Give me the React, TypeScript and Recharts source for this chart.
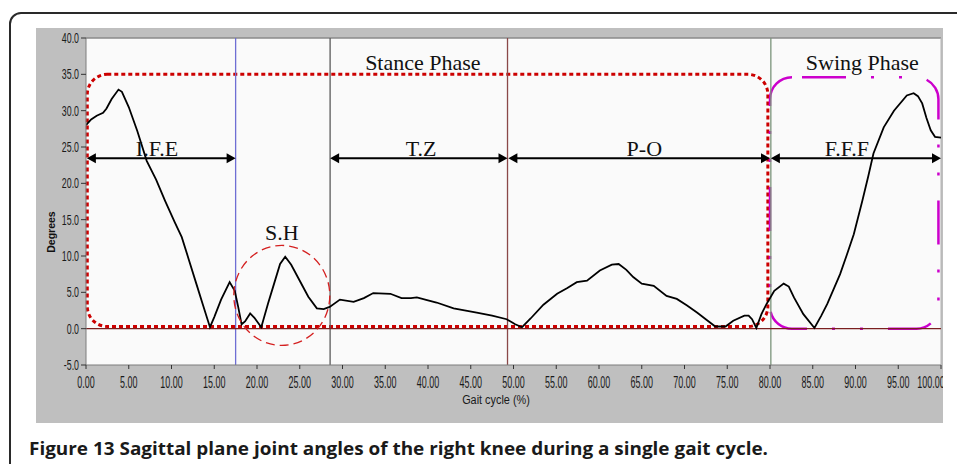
import React from 'react';
import {
  LineChart,
  Line,
  XAxis,
  YAxis,
  CartesianGrid,
  ReferenceLine,
  ReferenceArea,
  ReferenceDot,
} from 'recharts';

// Gait cycle (%) and knee flexion angle (degrees)
const gaitCycle = [
  0, 0.6, 1.25, 2.0, 2.4, 3.0, 3.8, 4.2, 5.0, 6.0, 7.1, 8.2, 9.25, 10.4, 11.2, 12.0, 12.9, 13.7,
  14.5, 15.0, 15.8, 16.8, 17.4, 17.8, 18.2, 18.6, 19.2, 19.7, 20.5, 21.3, 22.0, 22.7, 23.3, 24.0,
  25.0, 26.0, 27.0, 27.8, 28.5, 29.7, 31.3, 32.5, 33.6, 35.6, 36.9, 38.0, 38.7, 40.0, 41.0, 43.0,
  45.7, 47.5, 49.2, 50.2, 51.0, 52.0, 53.5, 55.1, 56.3, 57.4, 58.6, 60.1, 61.5, 62.3, 63.2, 64.0,
  65.0, 66.4, 67.9, 69.1, 70.3, 71.5, 72.6, 73.6, 74.8, 75.7, 77.0, 77.5, 77.9, 78.4, 79.0, 79.6,
  80.5, 81.6, 82.2, 82.8, 83.9, 85.2, 86.0, 86.7, 88.2, 89.0, 89.8, 90.8, 91.5, 92.1, 93.3, 94.5,
  96.0, 96.8, 97.3, 97.8, 98.3, 98.8, 99.3, 100,
];
const kneeAngle = [
  28.0, 28.8, 29.3, 29.7, 30.3, 31.6, 32.9, 32.6, 30.5, 27.2, 23.1, 20.5, 17.6, 14.6, 12.6, 9.6, 6.2, 3.2,
  0.2, 1.6, 4.0, 6.4, 5.2, 3.0, 0.6, 1.0, 2.1, 1.5, 0.2, 3.5, 6.2, 8.9, 9.9, 8.8,
  6.6, 4.4, 2.8, 2.7, 3.0, 4.0, 3.7, 4.2, 4.9, 4.8, 4.2, 4.2, 4.3, 3.9, 3.6, 2.8,
  2.2, 1.8, 1.3, 0.6, 0.2, 1.4, 3.3, 4.8, 5.6, 6.4, 6.6, 8.0, 8.8, 8.9, 8.1, 7.1,
  6.2, 5.9, 4.5, 4.1, 3.2, 2.2, 1.2, 0.3, 0.3, 1.1, 1.8, 1.8, 1.3, 0.1, 2.0, 3.4,
  5.2, 6.2, 5.8, 4.3, 2.0, 0.1, 1.8, 3.4, 7.5, 10.2, 13.0, 17.6, 21.0, 24.1, 27.7, 30.0,
  32.1, 32.4, 32.0, 31.0, 29.0, 27.3, 26.4, 26.3,
];

const xTicks = [0, 5, 10, 15, 20, 25, 30, 35, 40, 45, 50, 55, 60, 65, 70, 75, 80, 85, 90, 95, 100];
const yTicks = [-5, 0, 5, 10, 15, 20, 25, 30, 35, 40];

// Event lines (gait cycle %)
const eventLines = [17.5, 28.55, 49.3, 80.1];
const eventColors = ['#6e6ed4', '#5a5a5a', '#8a4848', '#7a937a'];

// Sub-phase arrows: [start %, end %] at the arrow level (degrees)
const arrowLevel = 23.45;
const subPhaseStart = [0.1, 28.55, 49.4, 80.1];
const subPhaseEnd = [17.5, 49.3, 80.0, 100];

// Annotation texts and anchor points (gait %, degrees)
const labelTexts = ['Stance Phase', 'Swing Phase', 'I.F.E', 'T.Z', 'P-O', 'F.F.F', 'S.H'];
const labelX = [39.4, 90.8, 8.3, 39.2, 65.3, 89.0, 22.9];
const labelY = [35.6, 35.6, 23.7, 23.7, 23.7, 23.7, 12.2];

const data = gaitCycle.map((g, i) => ({ g, angle: kneeAngle[i] }));

const YTick = (props: any) => {
  const { x, y, payload } = props;
  return (
    <g transform={`translate(${x},${y})`}>
      <text
        transform="scale(0.63,1)"
        textAnchor="end"
        dy="0.36em"
        fontSize={14}
        fill="#1a1a1a"
        fontFamily="Liberation Sans, Arial, sans-serif"
      >
        {Number(payload.value).toFixed(1)}
      </text>
    </g>
  );
};

const XTick = (props: any) => {
  const { x, y, payload } = props;
  return (
    <g transform={`translate(${x},${y})`}>
      <text
        transform="scale(0.56,1)"
        textAnchor="middle"
        y={17}
        fontSize={16}
        fill="#1a1a1a"
        fontFamily="Liberation Sans, Arial, sans-serif"
      >
        {Number(payload.value).toFixed(2)}
      </text>
    </g>
  );
};

const ArrowShape = (p: any) => {
  const { x1, y1, x2, y2 } = p;
  const h = 9;
  const w = 5;
  return (
    <g>
      <line x1={x1 + h - 1} y1={y1} x2={x2 - h + 1} y2={y2} stroke="#000" strokeWidth={2} />
      <polygon points={`${x1},${y1} ${x1 + h},${y1 - w} ${x1 + h},${y1 + w}`} fill="#000" />
      <polygon points={`${x2},${y2} ${x2 - h},${y2 - w} ${x2 - h},${y2 + w}`} fill="#000" />
    </g>
  );
};

export default function App() {
  return (
    <div
      style={{
        position: 'fixed',
        left: 0,
        top: 0,
        width: 957,
        height: 464,
        overflow: 'hidden',
        background: '#fff',
      }}
    >
      <div
        style={{
          position: 'absolute',
          left: 9,
          top: 12,
          width: 1000,
          height: 520,
          border: '2px solid #2a2a2a',
          borderRadius: 12,
          boxSizing: 'border-box',
        }}
      />
      <div
        style={{
          position: 'absolute',
          left: 36,
          top: 28,
          width: 907,
          height: 395,
          background: '#bfbfbf',
          overflow: 'hidden',
        }}
      >
        <LineChart
          width={907}
          height={396}
          data={data}
          margin={{ top: 10, right: 2, bottom: 0, left: 0 }}
        >
          <CartesianGrid horizontal={false} vertical={false} fill="#fafafa" />
          <XAxis
            dataKey="g"
            type="number"
            domain={[0, 100]}
            ticks={xTicks}
            height={59}
            tick={<XTick />}
            tickSize={4}
            tickMargin={2}
            axisLine={{ stroke: '#7d7d7d' }}
            tickLine={{ stroke: '#333' }}
            allowDataOverflow
          />
          <YAxis
            type="number"
            domain={[-5, 40]}
            ticks={yTicks}
            width={50}
            tick={<YTick />}
            tickSize={5}
            tickMargin={2}
            axisLine={{ stroke: '#7d7d7d' }}
            tickLine={{ stroke: '#333' }}
            allowDataOverflow
          />
          <ReferenceLine y={40} stroke="#8a8a8a" strokeWidth={1.5} />
          <ReferenceLine x={100} stroke="#b5b5b5" strokeWidth={1} />
          {eventLines.map((x, i) => (
            <ReferenceLine key={'ev' + i} x={x} stroke={eventColors[i]} strokeWidth={1.3} />
          ))}
          <ReferenceLine y={0} stroke="#7a1f1f" strokeWidth={1.2} />
          <ReferenceArea
            x1={0.15}
            x2={79.75}
            y1={0.3}
            y2={35}
            shape={(p: any) => (
              <rect
                x={p.x}
                y={p.y}
                width={p.width}
                height={p.height}
                rx={20}
                ry={20}
                fill="none"
                stroke="#cc0000"
                strokeWidth={3}
                strokeDasharray="4 3"
              />
            )}
          />
          <ReferenceArea
            x1={80.0}
            x2={99.7}
            y1={0}
            y2={34.6}
            shape={(p: any) => (
              <rect
                x={p.x}
                y={p.y}
                width={p.width}
                height={p.height}
                rx={22}
                ry={22}
                fill="none"
                stroke="#cc00cc"
                strokeWidth={2.5}
                strokeDasharray="44 25 3 25 3 25"
                strokeDashoffset={-10}
              />
            )}
          />
          <ReferenceDot
            x={22.9}
            y={4.57}
            r={48}
            shape={(p: any) => (
              <ellipse
                cx={p.cx}
                cy={p.cy}
                rx={48}
                ry={50}
                fill="none"
                stroke="#d42020"
                strokeWidth={1.3}
                strokeDasharray="9 5"
              />
            )}
          />
          {subPhaseStart.map((s, i) => (
            <ReferenceLine
              key={'ar' + i}
              segment={[
                { x: s, y: arrowLevel },
                { x: subPhaseEnd[i], y: arrowLevel },
              ]}
              shape={(p: any) => <ArrowShape {...p} />}
            />
          ))}
          <Line
            type="linear"
            dataKey="angle"
            stroke="#000"
            strokeWidth={1.8}
            dot={false}
            isAnimationActive={false}
          />
          {labelTexts.map((t, i) => (
            <ReferenceDot
              key={'lb' + i}
              x={labelX[i]}
              y={labelY[i]}
              r={1}
              shape={(p: any) => (
                <text
                  x={p.cx}
                  y={p.cy}
                  textAnchor="middle"
                  fontSize={22}
                  fill="#111"
                  fontFamily="Liberation Serif, Times New Roman, serif"
                >
                  {t}
                </text>
              )}
            />
          ))}
        </LineChart>
      </div>
      <div
        style={{
          position: 'absolute',
          left: 396,
          top: 393,
          width: 200,
          textAlign: 'center',
          fontFamily: 'Liberation Sans, Arial, sans-serif',
          fontSize: 12.5,
          lineHeight: '14px',
          color: '#1a1a1a',
          transform: 'scaleX(0.87)',
        }}
      >
        Gait cycle (%)
      </div>
      <div
        style={{
          position: 'absolute',
          left: 21,
          top: 226,
          width: 60,
          height: 12,
          lineHeight: '12px',
          textAlign: 'center',
          fontFamily: 'Liberation Sans, Arial, sans-serif',
          fontWeight: 700,
          fontSize: 10.5,
          color: '#111',
          transform: 'rotate(-90deg)',
        }}
      >
        Degrees
      </div>
      <svg
        width={957}
        height={40}
        style={{ position: 'absolute', left: 0, top: 430 }}
      >
        <text
          x={29}
          y={25}
          fontFamily="Open Sans, Noto Sans, sans-serif"
          fontWeight={700}
          fontSize={17}
          fill="#1a1a1a"
          textLength={739}
          lengthAdjust="spacingAndGlyphs"
        >
          Figure 13 Sagittal plane joint angles of the right knee during a single gait cycle.
        </text>
      </svg>
    </div>
  );
}
